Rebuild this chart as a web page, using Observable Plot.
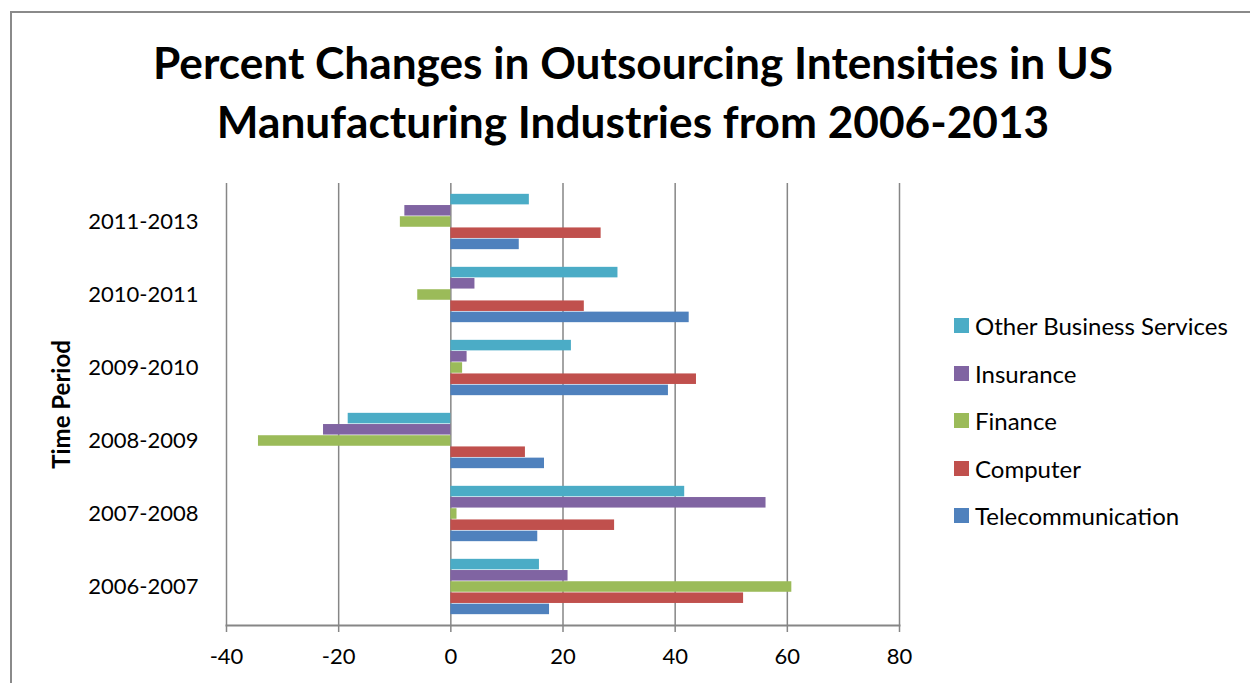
<!DOCTYPE html>
<html><head><meta charset="utf-8">
<script src="https://cdn.jsdelivr.net/npm/d3@7"></script>
<script src="https://cdn.jsdelivr.net/npm/@observablehq/plot@0.6"></script>
<style>
body{margin:0;background:#fff;font-family:Lato,"Open Sans",sans-serif;}
#wrap{position:relative;width:1250px;height:683px;overflow:hidden;background:#fff;}
#frame{position:absolute;left:10px;top:11px;width:1400px;height:800px;border-left:2px solid #8a8a8a;border-top:2px solid #8a8a8a;}
#title{position:absolute;left:0;width:1266px;top:32px;text-align:center;font-weight:700;font-size:44.2px;line-height:59px;color:#000;}
#chart{position:absolute;left:0;top:0;}
#legend{position:absolute;left:954px;top:302px;}
.row{display:flex;align-items:center;height:47.5px;font-size:24px;color:#000;}
.sw{width:15px;height:15px;margin-right:6px;}
</style></head>
<body><div id="wrap"><div id="frame"></div><div id="chart"></div><div id="title"></div><div id="legend"></div></div>
<script>
const titleLines = ["Percent Changes in Outsourcing Intensities in US", "Manufacturing Industries from 2006-2013"];
const yTitle = "Time Period";
const periods = ["2006-2007","2007-2008","2008-2009","2009-2010","2010-2011","2011-2013"];
const series = ["Telecommunication","Computer","Finance","Insurance","Other Business Services"];
const colors = ["#4F81BD","#C0504D","#9BBB59","#8064A2","#4BACC6"];
const telecom   = [17.6, 15.5, 16.7, 38.8, 42.5, 12.2];
const computer  = [52.2, 29.2, 13.3, 43.8, 23.8, 26.8];
const finance   = [60.8,  1.1, -34.3, 2.1, -5.9, -9.0];
const insurance = [20.9, 56.2, -22.7, 2.9,  4.3, -8.2];
const other     = [15.8, 41.7, -18.3, 21.5, 29.8, 14.0];
const xTicks = [-40, -20, 0, 20, 40, 60, 80];

const values = [telecom, computer, finance, insurance, other];
const rows = periods.flatMap((p, i) => series.map((s, k) => ({period: p, series: s, value: values[k][i]})));

const W = 1250, H = 683, mT = 183, mB = 58, mL = 226, mR = 351;
const bw = (H - mT - mB) / periods.length;
const bh = 11.2;
const pad = (bw - series.length * bh) / 2;
const gray = "#868686";

const chart = Plot.plot({
  width: W, height: H,
  marginTop: mT, marginBottom: mB, marginLeft: mL, marginRight: mR,
  style: {fontFamily: "Lato, 'Open Sans', sans-serif", background: "transparent", color: "#000"},
  x: {domain: [-40, 80], label: null},
  y: {domain: periods.slice().reverse(), padding: 0, label: null},
  marks: [
    Plot.gridX(xTicks, {stroke: gray, strokeOpacity: 1, strokeWidth: 1.5}),
    ...series.map((s, k) => {
      const top = pad + (series.length - 1 - k) * bh;
      return Plot.barX(rows.filter(d => d.series === s), {
        x: "value", y: "period", fill: colors[k],
        insetTop: top, insetBottom: bw - top - bh
      });
    }),
    Plot.frame({anchor: "bottom", stroke: gray, strokeWidth: 2}),
    Plot.axisX({ticks: xTicks, tickFormat: d => String(d), tickSize: 7, tickPadding: 16, fontSize: 22, stroke: gray, strokeWidth: 1.5, label: null}),
    Plot.axisY({tickSize: 0, tickPadding: 28, fontSize: 22, label: null}),
    Plot.text([yTitle], {frameAnchor: "left", textAnchor: "middle", rotate: -90, dx: -164, fontSize: 24, fontWeight: "bold", fill: "#000"})
  ]
});
document.getElementById("chart").appendChild(chart);

document.getElementById("title").innerHTML = titleLines.map(t => `<div>${t}</div>`).join("");
const lg = document.getElementById("legend");
series.slice().reverse().forEach(s => {
  const k = series.indexOf(s);
  const r = document.createElement("div");
  r.className = "row";
  r.innerHTML = `<div class="sw" style="background:${colors[k]}"></div><span>${s}</span>`;
  lg.appendChild(r);
});
</script></body></html>
